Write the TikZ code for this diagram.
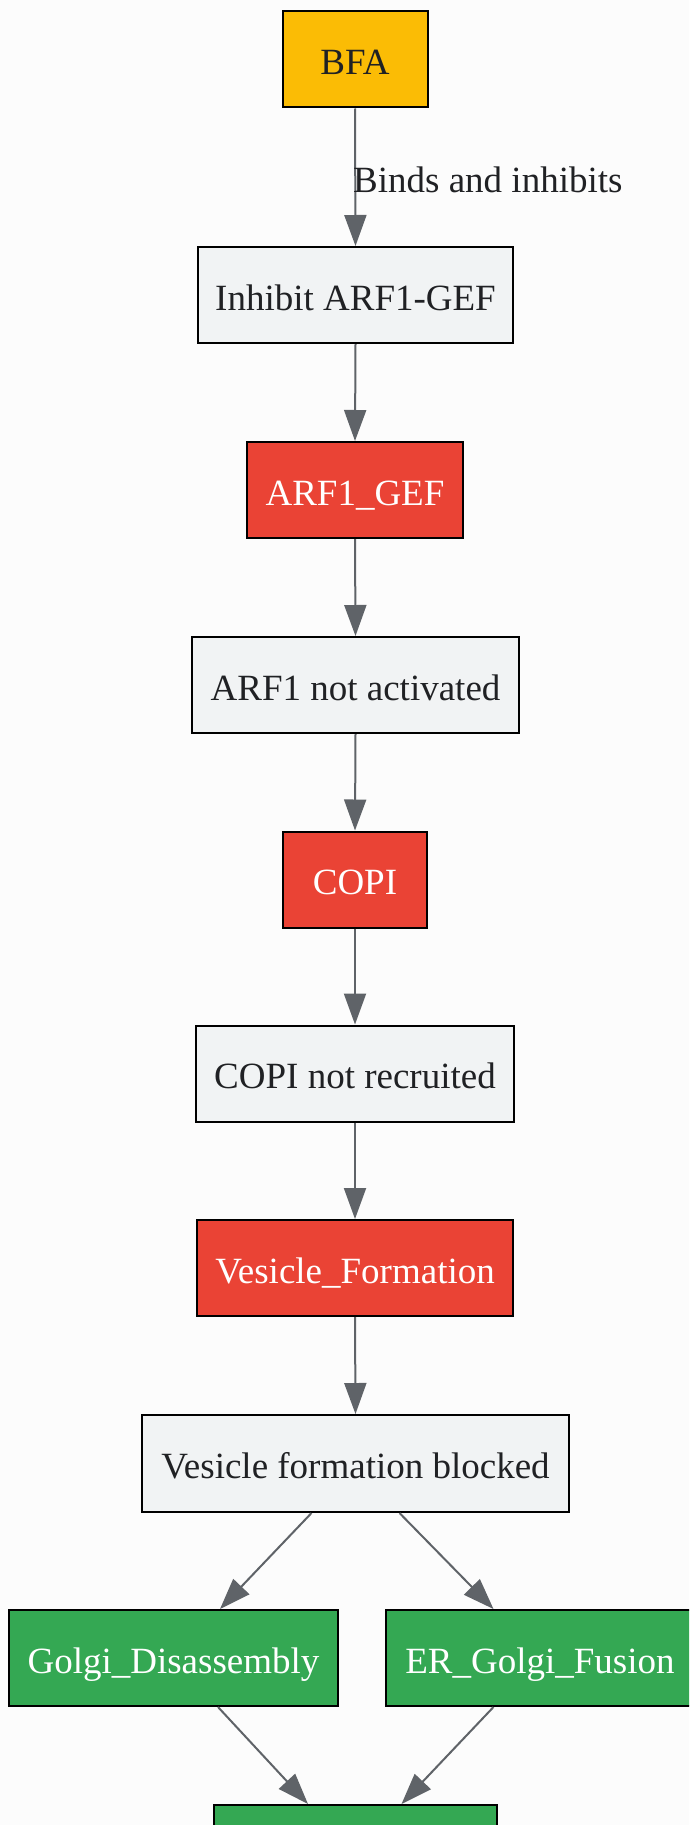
\documentclass[tikz,border=0pt]{standalone}
\usepackage{fontspec}
\setmainfont{Liberation Serif}
\usetikzlibrary{arrows.meta,calc}
\definecolor{cyellow}{HTML}{FBBC05}
\definecolor{cred}{HTML}{EA4335}
\definecolor{cgreen}{HTML}{34A853}
\definecolor{cgray}{HTML}{F1F3F4}
\definecolor{cedge}{HTML}{5F6368}
\definecolor{ctext}{HTML}{202124}
\tikzset{
  x=1pt,y=-1pt,
  box/.style={draw=black,line width=2pt,rectangle,inner sep=0pt,minimum height=96pt,
    text height=30pt,text depth=0pt,
    font=\fontsize{37}{44}\selectfont,align=center},
  yellowbox/.style={box,fill=cyellow,text=ctext},
  graybox/.style={box,fill=cgray,text=ctext},
  redbox/.style={box,fill=cred,text=white},
  greenbox/.style={box,fill=cgreen,text=white},
  edge/.style={draw=cedge,line width=2pt,-{Triangle[length=31pt,width=22pt]}},
  elabel/.style={font=\fontsize{37}{44}\selectfont,text=ctext,inner sep=0pt}
}
\begin{document}
\begin{tikzpicture}
\useasboundingbox (0,0) rectangle (689,1825);
\clip (0,0) rectangle (689,1825);
\fill[white!99!black] (0,0) rectangle (689,1825);
\node[yellowbox,minimum width=145pt] (bfa) at (355,59.5) {BFA};
\node[graybox,minimum width=315pt] (inh) at (355.5,295) {Inhibit ARF1-GEF};
\node[redbox,minimum width=216pt] (gef) at (355,490) {ARF1\_GEF};
\node[graybox,minimum width=327pt] (arf) at (355.5,685) {ARF1 not activated};
\node[redbox,minimum width=144pt] (copi) at (355,879.5) {COPI};
\node[graybox,minimum width=318pt] (copin) at (355,1073.5) {COPI not recruited};
\node[redbox,minimum width=316pt] (vf) at (355,1268) {Vesicle\_Formation};
\node[graybox,minimum width=427pt,minimum height=97pt] (vfb) at (355.5,1463.5) {Vesicle formation blocked};
\node[greenbox,minimum width=329pt] (gd) at (173.5,1658) {Golgi\_Disassembly};
\node[greenbox,minimum width=308pt] (erg) at (540,1658) {ER\_Golgi\_Fusion};
\node[greenbox,minimum width=283pt] (last) at (355.5,1853) {};
\draw[edge] (bfa.south) -- (inh.north);
\node[elabel,anchor=base west] (lbl) at (353,192) {Binds and inhibits};
\draw[edge] (inh.south) -- (gef.north);
\draw[edge] (gef.south) -- (arf.north);
\draw[edge] (arf.south) -- (copi.north);
\draw[edge] (copi.south) -- (copin.north);
\draw[edge] (copin.south) -- (vf.north);
\draw[edge] (vf.south) -- (vfb.north);
\draw[edge] ([xshift=-44pt]vfb.south) -- ([xshift=46.5pt]gd.north);
\draw[edge] ([xshift=44pt]vfb.south) -- ([xshift=-46.5pt]erg.north);
\draw[edge] ([xshift=44.5pt]gd.south) -- ([xshift=-47.5pt]last.north);
\draw[edge] ([xshift=-46.5pt]erg.south) -- ([xshift=46pt]last.north);
\end{tikzpicture}
\end{document}
